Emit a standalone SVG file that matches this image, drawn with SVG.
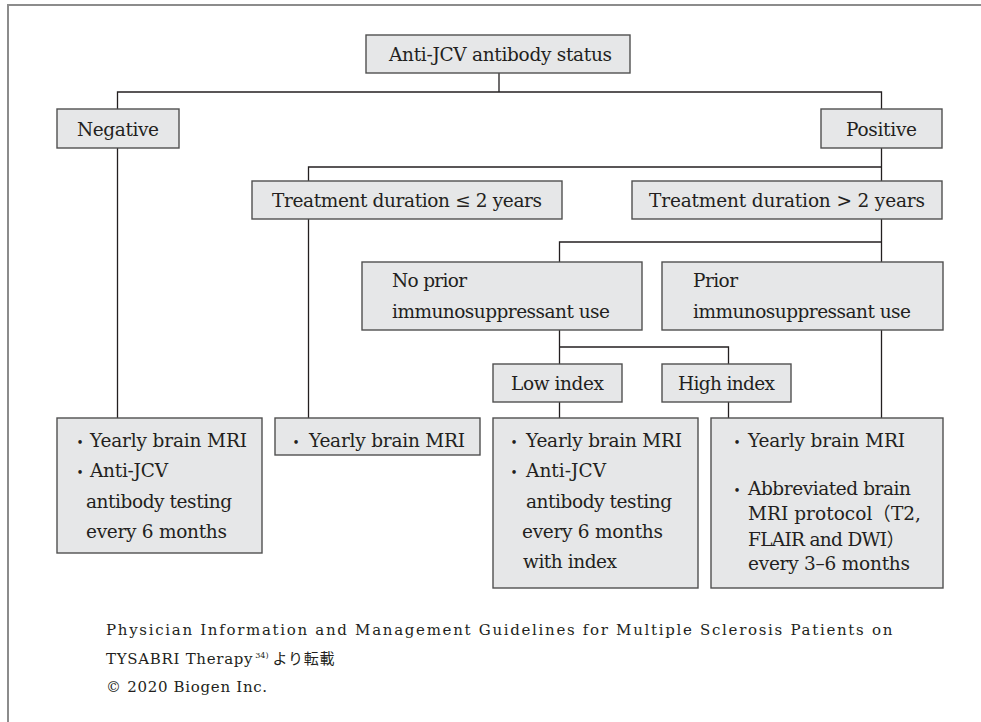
<svg xmlns="http://www.w3.org/2000/svg" width="981" height="722" viewBox="0 0 981 722">
<style>
  .frame { fill: none; stroke: #8c8c8c; stroke-width: 2; }
  .box { fill: #e6e7e8; stroke: #505050; stroke-width: 1.4; }
  .conn { fill: none; stroke: #231f20; stroke-width: 1.3; }
  text { font-family: "DejaVu Serif", "Liberation Serif", "Noto Sans CJK JP", serif; fill: #231f20; }
  .t { font-size: 18.5px; }
  .b { font-size: 12px; text-anchor: middle; }
  .f { font-size: 15px; letter-spacing: 0.7px; }
  .sup { font-size: 8px; letter-spacing: 0; }
</style>
<rect class="frame" x="8" y="5" width="1000" height="760"/>

<g id="connectors">
  <path class="conn" d="M499 73 V92 M117.5 109 V92 H881.5 V109"/>
  <path class="conn" d="M117.5 148 V418"/>
  <path class="conn" d="M881.5 148 V181 M308.5 181 V167 H881.5"/>
  <path class="conn" d="M308.5 219 V418"/>
  <path class="conn" d="M881.5 219 V262 M559.5 262 V242 H881.5"/>
  <path class="conn" d="M559.5 330 V364 M559.5 347 H728.5 V364"/>
  <path class="conn" d="M559.5 402 V418 M728.5 402 V418 M881.5 330 V418"/>
</g>

<g id="root">
  <rect class="box" x="366" y="35" width="264" height="38"/>
  <text class="t" x="389" y="61" textLength="223">Anti-JCV antibody status</text>
</g>
<g id="negative">
  <rect class="box" x="57" y="109" width="122" height="39"/>
  <text class="t" x="77" y="136" textLength="82">Negative</text>
</g>
<g id="positive">
  <rect class="box" x="821" y="109" width="121" height="39"/>
  <text class="t" x="846" y="136" textLength="71">Positive</text>
</g>
<g id="dur-le2">
  <rect class="box" x="252" y="181" width="310" height="38"/>
  <text class="t" x="272" y="207" textLength="270">Treatment duration ≤ 2 years</text>
</g>
<g id="dur-gt2">
  <rect class="box" x="632" y="181" width="310" height="38"/>
  <text class="t" x="649" y="207" textLength="276">Treatment duration &gt; 2 years</text>
</g>
<g id="no-prior">
  <rect class="box" x="362" y="262" width="280" height="68"/>
  <text class="t" x="392" y="287" textLength="75">No prior</text>
  <text class="t" x="392" y="318" textLength="218">immunosuppressant use</text>
</g>
<g id="prior">
  <rect class="box" x="662" y="262" width="281" height="68"/>
  <text class="t" x="693" y="287" textLength="45">Prior</text>
  <text class="t" x="693" y="318" textLength="218">immunosuppressant use</text>
</g>
<g id="low-index">
  <rect class="box" x="493" y="364" width="129" height="38"/>
  <text class="t" x="511" y="390" textLength="93">Low index</text>
</g>
<g id="high-index">
  <rect class="box" x="662" y="364" width="129" height="38"/>
  <text class="t" x="678" y="390" textLength="97">High index</text>
</g>

<g id="out-negative">
  <rect class="box" x="57" y="418" width="205" height="135"/>
  <text class="b" x="80" y="447">•</text>
  <text class="t" x="90" y="447" textLength="157">Yearly brain MRI</text>
  <text class="b" x="80" y="477">•</text>
  <text class="t" x="90" y="477" textLength="78">Anti-JCV</text>
  <text class="t" x="86" y="508" textLength="146">antibody testing</text>
  <text class="t" x="86" y="538" textLength="141">every 6 months</text>
</g>
<g id="out-le2">
  <rect class="box" x="275" y="418" width="205" height="37"/>
  <text class="b" x="296" y="447">•</text>
  <text class="t" x="309" y="447" textLength="156">Yearly brain MRI</text>
</g>
<g id="out-low">
  <rect class="box" x="493" y="418" width="205" height="170"/>
  <text class="b" x="514" y="447">•</text>
  <text class="t" x="526" y="447" textLength="156">Yearly brain MRI</text>
  <text class="b" x="514" y="477">•</text>
  <text class="t" x="526" y="477" textLength="80">Anti-JCV</text>
  <text class="t" x="526" y="508" textLength="146">antibody testing</text>
  <text class="t" x="522" y="538" textLength="141">every 6 months</text>
  <text class="t" x="523" y="568" textLength="94">with index</text>
</g>
<g id="out-high">
  <rect class="box" x="711" y="418" width="232" height="170"/>
  <text class="b" x="737" y="447">•</text>
  <text class="t" x="748" y="447" textLength="157">Yearly brain MRI</text>
  <text class="b" x="737" y="495">•</text>
  <text class="t" x="748" y="495" textLength="163">Abbreviated brain</text>
  <text class="t" x="748" y="520" textLength="173">MRI protocol（T2,</text>
  <text class="t" x="748" y="546" textLength="157">FLAIR and DWI）</text>
  <text class="t" x="748" y="570" textLength="162">every 3–6 months</text>
</g>

<g id="footer">
  <text class="f" x="106" y="635" textLength="787">Physician Information and Management Guidelines for Multiple Sclerosis Patients on</text>
  <text class="f" x="106" y="664">TYSABRI Therapy<tspan class="sup" dx="2" dy="-6">34)</tspan><tspan dx="4" dy="6">より転載</tspan></text>
  <text class="f" x="106" y="692">© 2020 Biogen Inc.</text>
</g>
</svg>
